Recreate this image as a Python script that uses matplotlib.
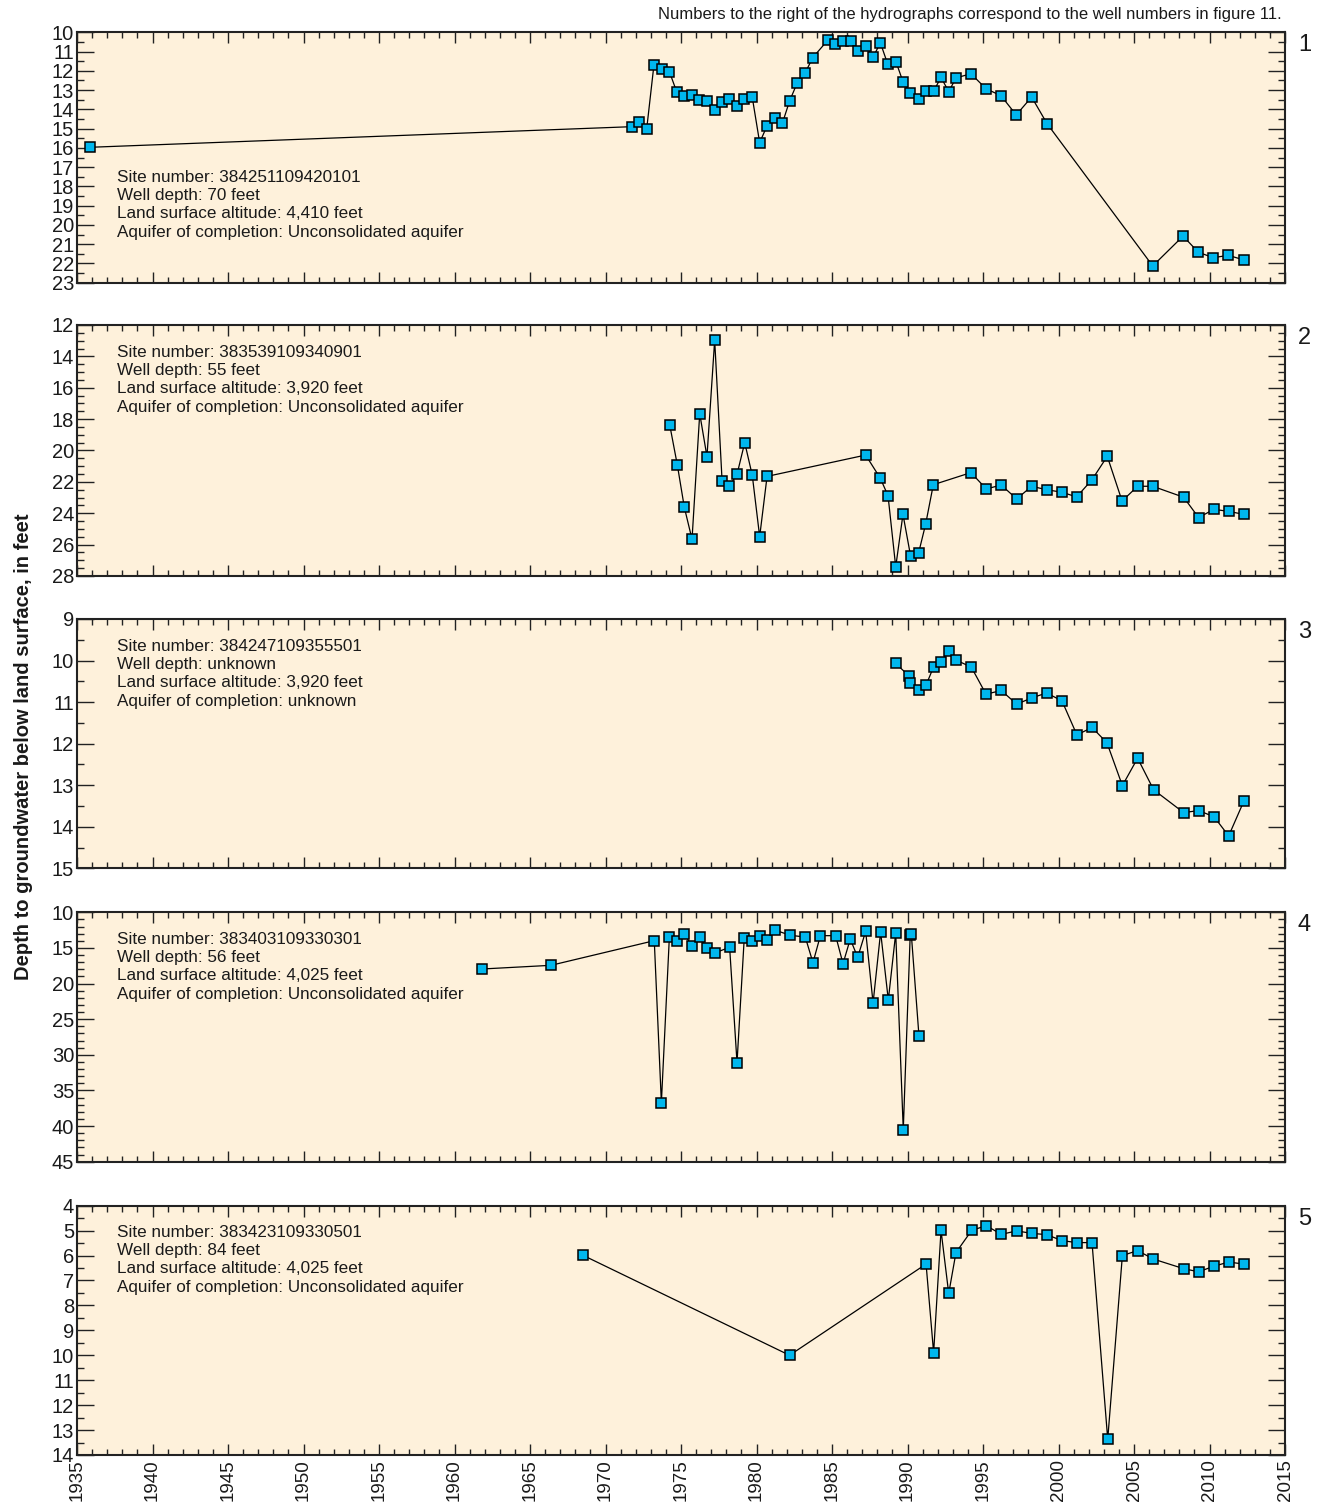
import matplotlib
matplotlib.use("Agg")
import matplotlib.pyplot as plt
from matplotlib.ticker import MultipleLocator

# ---------------- data ----------------
w1_years = [1935.86, 1971.73, 1972.24, 1972.73, 1973.21, 1973.72, 1974.23, 1974.71, 1975.20, 1975.73,
            1976.21, 1976.72, 1977.23, 1977.72, 1978.20, 1978.71, 1979.19, 1979.72, 1980.21, 1980.70,
            1981.20, 1981.71, 1982.19, 1982.70, 1983.21, 1983.72, 1984.71, 1985.20, 1985.71, 1986.26,
            1986.74, 1987.23, 1987.72, 1988.20, 1988.69, 1989.24, 1989.70, 1990.19, 1990.74, 1991.25,
            1991.73, 1992.22, 1992.73, 1993.21, 1994.20, 1995.20, 1996.19, 1997.20, 1998.22, 1999.24,
            2006.24, 2008.25, 2009.26, 2010.25, 2011.25, 2012.28]
w1_depth = [15.97, 14.90, 14.67, 15.00, 11.68, 11.92, 12.04, 13.08, 13.29, 13.24,
            13.52, 13.57, 14.02, 13.64, 13.48, 13.83, 13.46, 13.38, 15.73, 14.85,
            14.43, 14.73, 13.57, 12.62, 12.13, 11.32, 10.42, 10.61, 10.47, 10.47,
            10.95, 10.71, 11.30, 10.54, 11.65, 11.54, 12.56, 13.13, 13.45, 13.03,
            13.05, 12.34, 13.08, 12.37, 12.15, 12.93, 13.29, 14.29, 13.36, 14.74,
            22.13, 20.58, 21.42, 21.70, 21.58, 21.82]

w2_years = [1974.25, 1974.76, 1975.22, 1975.73, 1976.24, 1976.72, 1977.23, 1977.72, 1978.20, 1978.71,
            1979.22, 1979.72, 1980.21, 1980.70, 1987.23, 1988.20, 1988.71, 1989.22, 1989.70, 1990.21,
            1990.74, 1991.20, 1991.71, 1994.20, 1995.22, 1996.21, 1997.23, 1998.22, 1999.21, 2000.23,
            2001.20, 2002.22, 2003.23, 2004.21, 2005.24, 2006.24, 2008.29, 2009.28, 2010.28, 2011.27,
            2012.26]
w2_depth = [18.35, 20.94, 23.62, 25.66, 17.65, 20.39, 12.96, 21.92, 22.28, 21.52,
            19.50, 21.58, 25.49, 21.65, 20.29, 21.77, 22.88, 27.42, 24.07, 26.75,
            26.51, 24.70, 22.18, 21.41, 22.45, 22.20, 23.09, 22.28, 22.50, 22.66,
            22.96, 21.86, 20.37, 23.22, 22.28, 22.28, 22.98, 24.28, 23.75, 23.88,
            24.07]

w3_years = [1989.22, 1990.10, 1990.19, 1990.74, 1991.23, 1991.73, 1992.22, 1992.73, 1993.23, 1994.23,
            1995.20, 1996.21, 1997.23, 1998.22, 1999.21, 2000.23, 2001.22, 2002.22, 2003.21, 2004.23,
            2005.24, 2006.30, 2008.29, 2009.28, 2010.30, 2011.27, 2012.28]
w3_depth = [10.07, 10.37, 10.54, 10.72, 10.59, 10.15, 10.03, 9.76, 9.99, 10.16,
            10.81, 10.72, 11.05, 10.90, 10.78, 10.97, 11.79, 11.61, 11.98, 13.01,
            12.35, 13.11, 13.66, 13.61, 13.76, 14.22, 13.38]

w4_years = [1961.80, 1966.39, 1973.23, 1973.70, 1974.23, 1974.76, 1975.22, 1975.75, 1976.24, 1976.72,
            1977.23, 1978.22, 1978.71, 1979.19, 1979.70, 1980.21, 1980.72, 1981.20, 1982.24, 1983.23,
            1983.74, 1984.23, 1985.24, 1985.73, 1986.21, 1986.70, 1987.23, 1987.72, 1988.22, 1988.73,
            1989.22, 1989.72, 1990.18, 1990.25, 1990.76]
w4_depth = [17.96, 17.44, 13.98, 36.72, 13.47, 14.03, 13.09, 14.73, 13.51, 15.06,
            15.71, 14.91, 31.11, 13.56, 14.03, 13.33, 13.84, 12.48, 13.23, 13.47,
            17.07, 13.28, 13.28, 17.21, 13.75, 16.32, 12.67, 22.73, 12.77, 22.31,
            12.91, 40.52, 13.14, 13.00, 27.36]

w5_years = [1968.51, 1982.19, 1991.23, 1991.73, 1992.22, 1992.73, 1993.21, 1994.25, 1995.22, 1996.21,
            1997.23, 1998.22, 1999.21, 2000.23, 2001.20, 2002.22, 2003.26, 2004.23, 2005.24, 2006.28,
            2008.31, 2009.28, 2010.28, 2011.27, 2012.26]
w5_depth = [5.99, 10.00, 6.34, 9.90, 4.99, 7.52, 5.88, 4.99, 4.80, 5.15,
            5.01, 5.11, 5.16, 5.40, 5.48, 5.48, 13.37, 6.00, 5.80, 6.14,
            6.53, 6.65, 6.43, 6.26, 6.34]

well_numbers = ["1", "2", "3", "4", "5"]
site_numbers = ["384251109420101", "383539109340901", "384247109355501",
                "383403109330301", "383423109330501"]
well_depths = ["70 feet", "55 feet", "unknown", "56 feet", "84 feet"]
altitudes = ["4,410 feet", "3,920 feet", "3,920 feet", "4,025 feet", "4,025 feet"]
aquifers = ["Unconsolidated aquifer", "Unconsolidated aquifer", "unknown",
            "Unconsolidated aquifer", "Unconsolidated aquifer"]

y_ranges = [(10, 23), (12, 28), (9, 15), (10, 45), (4, 14)]
y_major = [1, 2, 1, 5, 1]
y_minor = [0.5, 0.5, 0.5, 1, 0.5]
x_ticks = list(range(1935, 2016, 5))

# ---------------- styling ----------------
FONT = ['Liberation Sans', 'DejaVu Sans']
plt.rcParams['font.family'] = FONT
BG = '#FEF1DB'
MARKER_FACE = '#00B7EE'
INK = '#1a1a1a'

W, H = 1324, 1502
fig = plt.figure(figsize=(W / 100, H / 100), dpi=100)

panel_px = [(32.3, 282.7), (325, 576), (619, 868.3), (912.3, 1161.7), (1205.7, 1455)]
text_top_px = [170, 345, 639, 932, 1225]
left_px, right_px = 77, 1285

series = [(w1_years, w1_depth), (w2_years, w2_depth), (w3_years, w3_depth),
          (w4_years, w4_depth), (w5_years, w5_depth)]

for i, ((top, bot), (xs, ys)) in enumerate(zip(panel_px, series)):
    ax = fig.add_axes([left_px / W, 1 - bot / H, (right_px - left_px) / W, (bot - top) / H])
    ax.set_facecolor(BG)
    ax.plot(xs, ys, color='black', lw=0.9, marker='s', ms=7.2,
            mfc=MARKER_FACE, mec='black', mew=1.1, zorder=3)
    ax.set_xlim(1935, 2015)
    ax.set_ylim(y_ranges[i][1], y_ranges[i][0])
    ax.xaxis.set_major_locator(MultipleLocator(5))
    ax.xaxis.set_minor_locator(MultipleLocator(1))
    ax.yaxis.set_major_locator(MultipleLocator(y_major[i]))
    ax.yaxis.set_minor_locator(MultipleLocator(y_minor[i]))
    ax.tick_params(which='both', direction='in', top=True, right=True, width=1.0, color='#222222')
    ax.tick_params(which='major', length=8)
    ax.tick_params(which='minor', length=4)
    ax.tick_params(axis='y', which='major', length=12)
    ax.tick_params(axis='y', which='minor', length=5)
    ax.tick_params(axis='y', labelsize=14.5, pad=2, labelcolor=INK)
    ax.tick_params(axis='x', labelsize=13.5, pad=3, labelcolor=INK)
    for s in ax.spines.values():
        s.set_linewidth(1.5)
        s.set_color('#222222')
    if i < 4:
        ax.set_xticklabels([])
    else:
        ax.set_xticks(x_ticks)
        ax.set_xticklabels([str(t) for t in x_ticks], rotation=90)
    info = (f"Site number: {site_numbers[i]}\n"
            f"Well depth: {well_depths[i]}\n"
            f"Land surface altitude: {altitudes[i]}\n"
            f"Aquifer of completion: {aquifers[i]}")
    fig.text(117 / W, 1 - text_top_px[i] / H, info, ha='left', va='top', fontsize=12.3,
             linespacing=1.27, color=INK)
    fig.text(1298 / W, 1 - (top + 2) / H, well_numbers[i], ha='left', va='top',
             fontsize=17, color=INK)

fig.text(1282 / W, 1 - 14 / H,
         "Numbers to the right of the hydrographs correspond to the well numbers in figure 11.",
         ha='right', va='center', fontsize=12, color=INK)
fig.text(24 / W, 1 - 747 / H, "Depth to groundwater below land surface, in feet",
         rotation=90, ha='center', va='center', fontsize=14.5, fontweight='bold', color=INK)

fig.savefig("out.png", dpi=100, facecolor='white')
